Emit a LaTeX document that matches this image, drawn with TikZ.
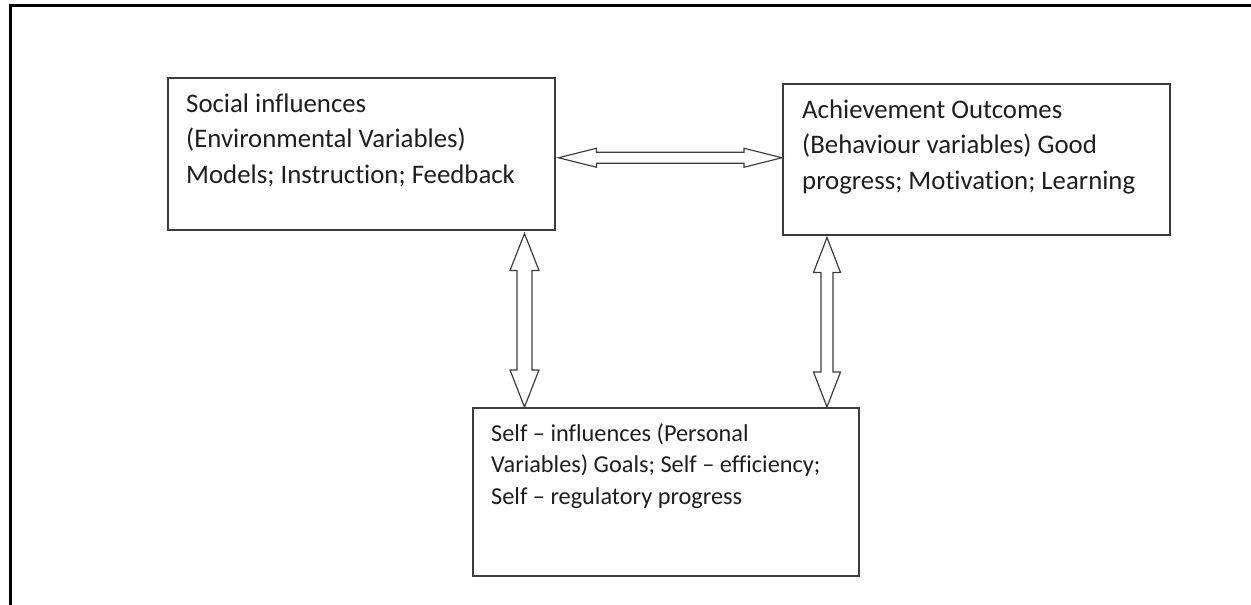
\documentclass[tikz,border=0pt]{standalone}
\usepackage{fontspec}
\setmainfont{Carlito}[Ligatures={NoCommon}]
\usetikzlibrary{calc}
\definecolor{boxgray}{HTML}{3C3C3C}
\definecolor{textgray}{HTML}{1E1E1E}
\tikzset{
  box/.style={draw=boxgray, line width=1.5pt, anchor=north west, inner sep=0pt},
  txt/.style={anchor=base west, align=left, inner sep=0pt, text=textgray,
    font=\fontsize{26.8}{35.5}\selectfont},
  txtb/.style={txt, font=\fontsize{24.3}{31.5}\selectfont},
  arr/.style={draw=boxgray, line width=1.2pt, fill=white, line join=miter},
}
% horizontal double arrow: #1 left tip, #2 right tip, #3 shaft half, #4 head half, #5 head length
\newcommand\myHarrow[5]{%
  \draw[arr] (#1) -- ($(#1)+(#5,-#4)$) -- ($(#1)+(#5,-#3)$) -- ($(#2)+(-#5,-#3)$)
    -- ($(#2)+(-#5,-#4)$) -- (#2) -- ($(#2)+(-#5,#4)$) -- ($(#2)+(-#5,#3)$)
    -- ($(#1)+(#5,#3)$) -- ($(#1)+(#5,#4)$) -- cycle;}
% vertical double arrow: #1 top tip, #2 bottom tip
\newcommand\myVarrow[5]{%
  \draw[arr] (#1) -- ($(#1)+(-#4,#5)$) -- ($(#1)+(-#3,#5)$) -- ($(#2)+(-#3,-#5)$)
    -- ($(#2)+(-#4,-#5)$) -- (#2) -- ($(#2)+(#4,-#5)$) -- ($(#2)+(#3,-#5)$)
    -- ($(#1)+(#3,#5)$) -- ($(#1)+(#4,#5)$) -- cycle;}
\begin{document}
\begin{tikzpicture}[x=1pt,y=-1pt]
\useasboundingbox (0,0) rectangle (1251,605);
\draw[line width=2.6pt] (1251,5.7) -- (10.7,5.7) -- (10.7,605);

\node[box, minimum width=387pt, minimum height=152pt] (b1) at (167,77) {};
\node[box, minimum width=387pt, minimum height=151pt] (b2) at (782,83) {};
\node[box, minimum width=386pt, minimum height=168pt] (b3) at (472,407) {};

\node[txt] (t1) at (186,183) {Social influences\\(Environmental Variables)\\Models; Instruction; Feedback};
\node[txt] (t2) at (802,189) {Achievement Outcomes\\(Behaviour variables) Good\\progress; Motivation; Learning};
\node[txtb] (t3) at (491,504) {Self – influences (Personal\\Variables) Goals; Self – efficiency;\\Self – regulatory progress};

\coordinate (hR) at ([yshift=1.5pt]b2.west);
\coordinate (hL) at ([xshift=3pt]b1.east |- hR);
\myHarrow{hL}{hR}{5.5}{9.5}{38}

\coordinate (vLt) at ([xshift=-31pt,yshift=-3pt]b1.south east);
\coordinate (vLb) at (vLt |- b3.north);
\myVarrow{vLt}{vLb}{7.5}{14.5}{37}

\coordinate (vRt) at ([xshift=45pt,yshift=-2pt]b2.south west);
\coordinate (vRb) at (vRt |- b3.north);
\myVarrow{vRt}{vRb}{6}{13.5}{35}
\end{tikzpicture}
\end{document}
